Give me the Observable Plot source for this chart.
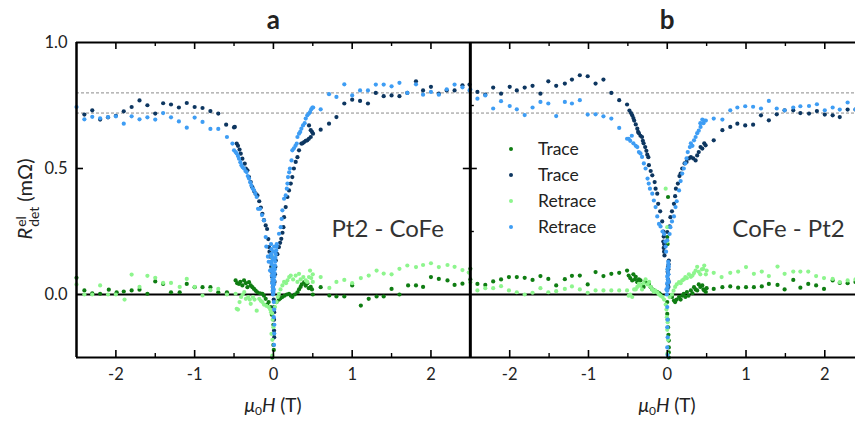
<!DOCTYPE html>
<html>
<head>
<meta charset="utf-8">
<script src="https://cdn.jsdelivr.net/npm/d3@7"></script>
<script src="https://cdn.jsdelivr.net/npm/@observablehq/plot@0.6"></script>
<style>
html, body { margin: 0; padding: 0; background: #fff; overflow: hidden; }
#wrap { position: relative; width: 855px; height: 428px; font-family: Lato, "Open Sans", sans-serif; color: #222; }
#chart { position: absolute; left: 0; top: 0; }
.xtitle { position: absolute; top: 393px; font-size: 19px; white-space: nowrap; transform: translateX(-50%); line-height: 24px; }
.xtitle sub { font-size: 12px; vertical-align: -3px; line-height: 0; }
#ytitle { position: absolute; left: 25px; top: 199px; transform: translate(-50%, -50%) rotate(-90deg); white-space: nowrap; font-size: 20px; line-height: 26px; }
#ytitle .ss { display: inline-flex; flex-direction: column; font-size: 14px; line-height: 13px; vertical-align: middle; margin-left: 1px; margin-right: 5px; }
#legend { position: absolute; left: 500px; top: 136px; font-size: 17.5px; }
#legend .row { position: relative; height: 26px; line-height: 26px; }
#legend .dot { position: absolute; left: 9px; top: 11px; width: 4px; height: 4px; border-radius: 50%; }
#legend .lab { position: absolute; left: 38px; top: 0; white-space: nowrap; }
</style>
</head>
<body>
<div id="wrap">
  <div id="chart"></div>
  <div id="ytitle"><i>R</i><span class="ss"><span>el</span><span>det</span></span>(mΩ)</div>
  <div class="xtitle" style="left:273px"><i>μ</i><sub>0</sub><i>H</i> (T)</div>
  <div class="xtitle" style="left:667px"><i>μ</i><sub>0</sub><i>H</i> (T)</div>
  <div id="legend"></div>
</div>
<script>
// ---------- data ----------
const panelLetters = ["a", "b"];
const panelNames = ["Pt2 - CoFe", "CoFe - Pt2"];
const seriesKeys = ["traceLow", "traceHigh", "retraceLow", "retraceHigh"];
const seriesLabels = ["Trace", "Trace", "Retrace", "Retrace"];
const seriesColors = ["#0f7d12", "#0d3660", "#8df58d", "#3e9df4"];
const xTickValues = [-2, -1, 0, 1, 2];
const xMinorValues = [-1.5, -0.5, 0.5, 1.5];
const yTickValues = [0, 0.5, 1.0];
const yMinorValues = [0.25, 0.75];
const refLines = [0.80, 0.72];

// Panel a (Pt2 - CoFe)
const aTraceHigh = [[-2.4,0.714],[-2.3,0.731],[-2.2,0.694],[-2.1,0.703],[-2.0,0.709],[-1.9,0.727],[-1.8,0.744],[-1.7,0.770],[-1.6,0.751],[-1.5,0.718],[-1.4,0.759],[-1.3,0.754],[-1.2,0.742],[-1.1,0.760],[-1.0,0.744],[-0.9,0.740],[-0.8,0.728],[-0.7,0.718],[-0.6,0.674],[-0.5,0.663],
[-0.49,0.665],[-0.466,0.599],[-0.45,0.59],[-0.43,0.575],[-0.415,0.559],[-0.394,0.539],[-0.364,0.519],[-0.35,0.50],[-0.33,0.493],[-0.31,0.466],[-0.288,0.446],[-0.267,0.426],[-0.245,0.41],[-0.225,0.40],[-0.203,0.393],[-0.18,0.37],[-0.16,0.345],[-0.14,0.32],[-0.12,0.295],[-0.098,0.274],[-0.08,0.26],[-0.065,0.22],[-0.056,0.188],[-0.05,0.17],[-0.04,0.15],[-0.034,0.13],[-0.028,0.11],[-0.022,0.09],[-0.018,0.07],[-0.012,0.05],[-0.008,0.03],[-0.004,0.01],[0.004,-0.02],[0.008,-0.05],[0.01,-0.07],[0.008,-0.1],[0.008,-0.143],[0.01,-0.17],
[0.015,0.05],[0.02,0.08],[0.025,0.11],[0.03,0.135],[0.05,0.16],[0.07,0.188],[0.085,0.205],[0.10,0.221],[0.115,0.245],[0.127,0.267],[0.135,0.307],[0.156,0.347],[0.178,0.387],[0.198,0.413],[0.22,0.44],[0.24,0.466],[0.26,0.50],[0.283,0.526],[0.305,0.545],[0.325,0.572],[0.355,0.599],[0.37,0.60],[0.39,0.605],[0.41,0.61],[0.43,0.612],[0.45,0.618],[0.474,0.625],[0.503,0.638],[0.49,0.645],[0.474,0.652],[0.452,0.671],
[0.6,0.654],[0.706,0.678],[0.80,0.704],[0.90,0.758],[1.0,0.773],[1.1,0.768],[1.2,0.758],[1.3,0.80],[1.4,0.787],[1.5,0.79],[1.6,0.787],[1.7,0.80],[1.81,0.846],[1.9,0.81],[2.0,0.824],[2.1,0.797],[2.2,0.81],[2.3,0.81],[2.4,0.83],[2.49,0.833]];

const aRetraceHigh = [[-2.5,0.744],[-2.4,0.695],[-2.3,0.705],[-2.2,0.699],[-2.1,0.704],[-2.0,0.707],[-1.9,0.678],[-1.8,0.707],[-1.7,0.695],[-1.6,0.703],[-1.5,0.694],[-1.4,0.72],[-1.3,0.703],[-1.2,0.687],[-1.1,0.662],[-1.0,0.702],[-0.9,0.685],[-0.8,0.657],[-0.7,0.657],[-0.59,0.625],
[-0.52,0.599],[-0.50,0.572],[-0.48,0.565],[-0.466,0.56],[-0.45,0.55],[-0.437,0.539],[-0.42,0.525],[-0.406,0.513],[-0.39,0.505],[-0.373,0.50],[-0.355,0.49],[-0.34,0.486],[-0.325,0.47],[-0.31,0.46],[-0.295,0.445],[-0.28,0.433],[-0.262,0.42],[-0.246,0.413],[-0.23,0.40],[-0.212,0.387],[-0.195,0.34],[-0.17,0.34],[-0.145,0.315],[-0.12,0.294],[-0.098,0.228],[-0.09,0.19],[-0.07,0.15],[-0.06,0.13],[-0.043,0.095],
[-0.03,0.2],[-0.025,0.18],[-0.03,0.16],[-0.02,0.15],[-0.028,0.13],[-0.02,0.12],[-0.025,0.1],[-0.015,0.09],[-0.02,0.075],[-0.012,0.06],[-0.015,0.045],[-0.008,0.03],[-0.01,0.015],[-0.005,0.0],[0,0.01],[0.005,0.02],[0.008,0.04],[0.01,0.055],[0.012,0.07],[0.015,0.085],[0.018,0.1],[0.02,0.115],[0.022,0.13],[0.025,0.145],[0.03,0.16],[0.035,0.175],[0.04,0.19],[0,0.05],[0,0.08],[0.005,0.11],[-0.005,0.14],[0.0,0.17],[0.01,0.19],
[0.005,-0.03],[0.01,-0.06],[0.005,-0.09],[0.012,-0.12],[0.01,-0.155],[0.008,-0.2],
[0.042,0.2],[0.071,0.241],[0.093,0.267],[0.105,0.30],[0.114,0.334],[0.135,0.38],[0.156,0.393],[0.17,0.42],[0.178,0.44],[0.185,0.466],[0.2,0.485],[0.21,0.50],[0.23,0.532],[0.24,0.572],[0.26,0.58],[0.28,0.59],[0.296,0.599],[0.305,0.625],[0.325,0.638],[0.34,0.645],[0.355,0.658],[0.376,0.671],[0.397,0.68],[0.41,0.698],[0.43,0.711],[0.45,0.718],[0.465,0.724],[0.48,0.735],[0.495,0.742],[0.505,0.742],[0.60,0.735],
[0.706,0.795],[0.80,0.784],[0.90,0.834],[1.0,0.79],[1.1,0.81],[1.2,0.81],[1.3,0.833],[1.4,0.833],[1.5,0.826],[1.6,0.84],[1.7,0.80],[1.81,0.834],[1.9,0.793],[2.0,0.804],[2.1,0.793],[2.2,0.814],[2.3,0.833],[2.4,0.822],[2.49,0.81]];

const aTraceLow = [[-2.5,0.066],[-2.4,0.016],[-2.3,0.005],[-2.2,0.003],[-2.09,0.019],[-1.99,0.009],[-1.9,0.012],[-1.8,0.016],[-1.7,0.019],[-1.6,0.003],[-1.5,0.052],[-1.4,0.042],[-1.3,0.009],[-1.19,0.009],[-1.1,0.042],[-1.0,0.029],[-0.9,0.029],[-0.8,0.029],[-0.7,0.009],[-0.59,0.009],
[-0.48,0.056],[-0.46,0.045],[-0.437,0.042],[-0.42,0.05],[-0.394,0.036],[-0.373,0.056],[-0.35,0.045],[-0.33,0.029],[-0.31,0.049],[-0.288,0.036],[-0.267,0.029],[-0.246,0.022],[-0.225,0.015],[-0.203,0.009],[-0.17,0.005],[-0.14,0.003],[-0.12,-0.005],[-0.098,-0.017],[-0.08,-0.04],[-0.06,-0.03],[-0.034,-0.05],[-0.02,-0.08],
[0.0,-0.12],[0.008,-0.156],[0.0,-0.2],[0.005,-0.22],[-0.013,-0.25],
[0.04,-0.03],[0.07,-0.02],[0.09,-0.015],[0.114,-0.01],[0.14,-0.005],[0.17,0.0],[0.198,0.003],[0.22,-0.005],[0.24,-0.01],[0.27,0.0],[0.305,0.009],[0.325,0.02],[0.345,0.03],[0.36,0.04],[0.39,0.049],[0.41,0.035],[0.43,0.045],[0.45,0.025],[0.474,0.03],[0.5,0.0],[0.49,0.02],
[0.6,0.029],[0.71,-0.004],[0.8,-0.008],[0.9,-0.008],[1.0,0.036],[1.11,-0.044],[1.21,-0.017],[1.31,-0.008],[1.40,-0.008],[1.5,0.022],[1.6,0.0],[1.71,0.036],[1.81,0.036],[1.90,0.03],[2.0,0.069],[2.1,0.062],[2.21,0.056],[2.3,0.038],[2.4,0.043]];

const aRetraceLow = [[-2.5,0.04],[-2.4,0.0],[-2.3,0.0],[-2.2,0.036],[-2.1,0.0],[-2.0,0.0],[-1.89,-0.02],[-1.8,0.079],[-1.7,0.03],[-1.6,0.074],[-1.5,0.066],[-1.4,0.046],[-1.3,0.046],[-1.19,0.03],[-1.1,0.062],[-1.0,0.03],[-0.9,-0.004],[-0.8,0.017],[-0.7,0.022],[-0.59,0.0],
[-0.48,0.003],[-0.466,-0.057],[-0.45,-0.06],[-0.43,-0.03],[-0.41,-0.01],[-0.39,0.0],[-0.37,0.01],[-0.35,-0.017],[-0.32,-0.01],[-0.30,-0.02],[-0.288,-0.037],[-0.26,-0.01],[-0.24,-0.02],[-0.212,-0.064],[-0.18,-0.017],[-0.16,-0.025],[-0.14,-0.03],[-0.12,-0.04],[-0.09,-0.045],[-0.06,-0.05],[-0.04,-0.06],[-0.03,-0.07],[-0.015,-0.075],
[-0.025,-0.156],[-0.013,-0.18],[-0.013,-0.242],[-0.013,0.148],[0.0,0.11],[-0.01,-0.1],[0.0,-0.13],
[0.02,-0.05],[0.04,-0.03],[0.055,-0.01],[0.07,0.003],[0.09,0.02],[0.114,0.036],[0.135,0.05],[0.16,0.045],[0.178,0.056],[0.2,0.069],[0.22,0.075],[0.25,0.06],[0.283,0.075],[0.305,0.05],[0.325,0.082],[0.345,0.06],[0.38,0.069],[0.41,0.056],[0.43,0.05],[0.452,0.069],[0.465,0.095],[0.48,0.065],[0.5,0.08],[0.5,0.05],
[0.6,0.069],[0.71,0.026],[0.8,0.05],[0.9,0.058],[1.0,0.045],[1.11,0.065],[1.21,0.075],[1.31,0.095],[1.40,0.083],[1.5,0.08],[1.6,0.102],[1.7,0.115],[1.81,0.109],[1.9,0.117],[2.0,0.124],[2.1,0.109],[2.21,0.117],[2.3,0.11],[2.4,0.097],[2.48,0.087]];

// Panel b (CoFe - Pt2)
const bTraceHigh = [[-2.41,0.804],[-2.31,0.793],[-2.21,0.821],[-2.11,0.797],[-2.0,0.824],[-1.91,0.81],[-1.81,0.821],[-1.71,0.828],[-1.61,0.797],[-1.51,0.846],[-1.41,0.828],[-1.3,0.837],[-1.21,0.853],[-1.11,0.87],[-1.01,0.866],[-0.91,0.837],[-0.81,0.853],[-0.71,0.80],[-0.61,0.771],[-0.51,0.754],
[-0.48,0.73],[-0.46,0.72],[-0.445,0.711],[-0.43,0.70],[-0.42,0.69],[-0.40,0.675],[-0.38,0.658],[-0.37,0.645],[-0.36,0.64],[-0.34,0.63],[-0.32,0.625],[-0.31,0.61],[-0.30,0.60],[-0.28,0.585],[-0.265,0.57],[-0.254,0.555],[-0.24,0.545],[-0.233,0.513],[-0.21,0.49],[-0.19,0.473],[-0.16,0.446],[-0.148,0.42],[-0.127,0.40],[-0.115,0.36],[-0.09,0.33],[-0.064,0.29],[-0.05,0.25],[-0.045,0.23],[-0.05,0.21],[-0.04,0.2],[-0.045,0.185],[-0.04,0.17],[-0.035,0.155],
[0.0,0.02],[0.005,0.04],[0.01,0.06],[0.012,0.08],[0.015,0.1],[0.018,0.12],[0.02,0.135],[0.005,0.09],[0.01,0.11],[0.02,0.05],[0.015,0.03],
[0.0,0.248],[0.03,0.27],[0.04,0.307],[0.06,0.33],[0.085,0.36],[0.1,0.39],[0.11,0.42],[0.135,0.44],[0.155,0.47],[0.17,0.48],[0.19,0.5],[0.22,0.52],[0.245,0.526],[0.275,0.54],[0.3,0.545],[0.33,0.54],[0.36,0.532],[0.38,0.552],[0.4,0.565],[0.423,0.585],[0.445,0.579],[0.47,0.60],[0.487,0.592],
[0.59,0.612],[0.70,0.652],[0.80,0.665],[0.89,0.678],[0.99,0.671],[1.09,0.674],[1.19,0.711],[1.29,0.691],[1.39,0.715],[1.49,0.731],[1.60,0.731],[1.69,0.72],[1.80,0.718],[1.90,0.728],[2.0,0.714],[2.10,0.711],[2.19,0.704],[2.29,0.734],[2.39,0.734]];

const bRetraceHigh = [[-2.5,0.813],[-2.41,0.777],[-2.31,0.79],[-2.21,0.738],[-2.11,0.767],[-2.0,0.748],[-1.91,0.735],[-1.81,0.712],[-1.71,0.742],[-1.61,0.764],[-1.51,0.758],[-1.41,0.708],[-1.30,0.764],[-1.21,0.758],[-1.11,0.771],[-1.01,0.714],[-0.91,0.715],[-0.81,0.707],[-0.71,0.698],[-0.61,0.661],[-0.51,0.618],
[-0.49,0.618],[-0.47,0.61],[-0.45,0.63],[-0.43,0.60],[-0.40,0.59],[-0.38,0.585],[-0.36,0.565],[-0.34,0.56],[-0.32,0.546],[-0.297,0.52],[-0.275,0.50],[-0.25,0.46],[-0.235,0.44],[-0.22,0.42],[-0.19,0.40],[-0.17,0.373],[-0.148,0.347],[-0.127,0.31],[-0.105,0.28],[-0.085,0.27],[-0.06,0.25],[-0.04,0.24],
[-0.005,0.0],[0,0.015],[0.005,0.03],[0.0,0.045],[0.008,0.06],[0.005,0.075],[0.01,0.09],[0.008,0.105],[0.015,0.12],[0.012,0.13],[0.002,0.1],[0.0,0.07],[0.015,0.08],[0.02,0.11],[0.018,0.05],[-0.01,0.02],[-0.02,0.19],[-0.025,0.21],[-0.015,0.17],
[0.0,-0.05],[0.005,-0.1],[0,-0.13],[0.005,-0.17],[0.0,-0.21],[0.005,-0.24],
[0.0,0.215],[0.03,0.24],[0.04,0.267],[0.06,0.29],[0.085,0.31],[0.105,0.347],[0.12,0.37],[0.15,0.413],[0.17,0.45],[0.19,0.48],[0.21,0.5],[0.23,0.52],[0.245,0.54],[0.26,0.565],[0.287,0.585],[0.3,0.6],[0.32,0.59],[0.34,0.612],[0.36,0.625],[0.38,0.64],[0.40,0.65],[0.423,0.665],[0.42,0.68],[0.445,0.694],[0.46,0.68],[0.47,0.69],[0.49,0.69],
[0.59,0.698],[0.70,0.694],[0.80,0.731],[0.89,0.742],[0.99,0.747],[1.09,0.745],[1.19,0.738],[1.29,0.768],[1.39,0.738],[1.49,0.731],[1.60,0.742],[1.69,0.747],[1.80,0.748],[1.90,0.755],[2.0,0.731],[2.10,0.742],[2.19,0.734],[2.29,0.762],[2.39,0.735]];

const bTraceLow = [[-2.5,0.102],[-2.5,0.06],[-2.41,0.042],[-2.31,0.038],[-2.21,0.052],[-2.11,0.06],[-2.01,0.069],[-1.91,0.069],[-1.81,0.066],[-1.71,0.058],[-1.61,0.073],[-1.51,0.062],[-1.41,0.036],[-1.30,0.061],[-1.21,0.074],[-1.11,0.075],[-1.01,0.04],[-0.91,0.089],[-0.81,0.073],[-0.71,0.082],[-0.61,0.086],[-0.51,0.095],
[-0.49,0.075],[-0.47,0.065],[-0.445,0.056],[-0.43,0.08],[-0.41,0.06],[-0.40,0.07],[-0.38,0.049],[-0.36,0.06],[-0.34,0.056],[-0.32,0.036],[-0.30,0.03],[-0.28,0.05],[-0.25,0.045],[-0.233,0.042],[-0.21,0.029],[-0.19,0.02],[-0.17,0.016],[-0.15,0.012],[-0.127,0.01],[-0.10,0.005],[-0.085,0.0],
[0.0,-0.03],[0.0,-0.077],[0.005,-0.1],[0.01,-0.13],[0.015,-0.16],[0.02,-0.183],[0.02,-0.21],[0.02,-0.23],[0.02,-0.25],[0.01,0.387],[0.0,0.228],[0.005,0.2],
[0.06,-0.01],[0.085,-0.024],[0.1,-0.03],[0.12,-0.02],[0.15,-0.01],[0.17,-0.02],[0.19,-0.005],[0.21,0.003],[0.23,-0.01],[0.25,0.01],[0.27,-0.005],[0.3,0.016],[0.32,0.005],[0.34,0.029],[0.36,0.02],[0.38,0.016],[0.4,0.04],[0.42,0.03],[0.445,0.036],[0.46,0.02],[0.47,0.016],[0.49,0.01],[0.50,0.025],
[0.59,0.022],[0.70,0.029],[0.80,0.032],[0.90,0.027],[1.0,0.029],[1.10,0.029],[1.20,0.032],[1.29,0.042],[1.40,0.038],[1.49,0.02],[1.60,0.058],[1.69,0.027],[1.79,0.042],[1.89,0.036],[1.99,0.022],[2.10,0.056],[2.19,0.046],[2.29,0.045],[2.39,0.05]];

const bRetraceLow = [[-2.5,0.049],[-2.41,0.016],[-2.31,0.025],[-2.21,0.025],[-2.11,0.033],[-2.01,0.016],[-1.91,0.009],[-1.81,0.0],[-1.71,0.007],[-1.61,0.025],[-1.51,0.009],[-1.41,0.013],[-1.30,0.022],[-1.21,0.032],[-1.11,0.02],[-1.01,0.007],[-0.91,0.016],[-0.81,0.016],[-0.71,0.016],[-0.61,0.016],
[-0.51,0.016],[-0.49,-0.005],[-0.47,0.0],[-0.445,-0.01],[-0.42,0.02],[-0.40,0.02],[-0.38,0.03],[-0.36,0.042],[-0.34,0.035],[-0.32,0.02],[-0.30,0.045],[-0.275,0.06],[-0.25,0.04],[-0.23,0.05],[-0.21,0.03],[-0.19,0.02],[-0.17,0.01],[-0.15,0.015],[-0.127,0.008],[-0.105,0.0],[-0.085,-0.005],[-0.06,-0.01],[-0.04,-0.02],
[-0.02,0.42],[0,0.267],[0,0.21],[-0.02,-0.04],[-0.005,-0.09],[0,-0.14],[0.01,-0.18],[0.0,-0.236],[-0.01,-0.06],[0.005,-0.11],
[0.03,-0.01],[0.06,0.0],[0.08,0.015],[0.1,0.03],[0.12,0.04],[0.15,0.049],[0.17,0.045],[0.19,0.056],[0.21,0.06],[0.23,0.069],[0.25,0.065],[0.275,0.08],[0.3,0.07],[0.32,0.075],[0.34,0.085],[0.36,0.095],[0.38,0.11],[0.4,0.09],[0.42,0.08],[0.44,0.1],[0.457,0.102],[0.47,0.115],[0.49,0.08],[0.50,0.095],
[0.59,0.086],[0.69,0.069],[0.80,0.086],[0.90,0.091],[1.0,0.109],[1.10,0.082],[1.20,0.091],[1.29,0.073],[1.40,0.111],[1.49,0.082],[1.60,0.091],[1.69,0.091],[1.79,0.091],[1.89,0.073],[1.99,0.065],[2.10,0.062],[2.19,0.049],[2.29,0.056],[2.39,0.06]];

// ---------- layout ----------
const OFFSET = 5;                 // panel b is drawn 5 T to the right of panel a
const xDomain = [-2.5, 2.39 + OFFSET];
const yDomain = [-0.25, 1.0];
const annoX = [1.45, 1.54 + OFFSET];
const annoY = 0.258;
const panelCenters = [0, OFFSET];

const seriesData = {
  a: {traceLow: aTraceLow, traceHigh: aTraceHigh, retraceLow: aRetraceLow, retraceHigh: aRetraceHigh},
  b: {traceLow: bTraceLow, traceHigh: bTraceHigh, retraceLow: bRetraceLow, retraceHigh: bRetraceHigh}
};
const rows = [];
for (const key of seriesKeys) {
  for (const p of panelLetters) {
    const shift = p === "b" ? OFFSET : 0;
    for (const [x, y] of seriesData[p][key]) rows.push({x: x + shift, y, series: key});
  }
}

const both = arr => [...arr, ...arr.map(d => d + OFFSET)].filter(d => d >= xDomain[0] && d <= xDomain[1]);
const xMajor = both(xTickValues);
const xMinor = both(xMinorValues);
const xMid = xDomain[0] + OFFSET;   // shared boundary between the panels
const yMin = yDomain[0], yMax = yDomain[1];

const chart = Plot.plot({
  width: 855,
  height: 428,
  marginLeft: 76,
  marginRight: 0,
  marginTop: 42,
  marginBottom: 71,
  style: {fontFamily: "Lato, 'Open Sans', sans-serif", fontSize: "16px", color: "#222", background: "transparent", overflow: "visible"},
  x: {domain: xDomain},
  y: {domain: yDomain},
  color: {domain: seriesKeys, range: seriesColors},
  marks: [
    Plot.ruleY(refLines, {stroke: "#8a8a8a", strokeWidth: 1, strokeDasharray: "3,2"}),
    Plot.ruleY([0], {stroke: "#000", strokeWidth: 2.2}),
    Plot.dot(rows, {x: "x", y: "y", fill: "series", r: 2.1}),
    // frame
    Plot.ruleY([yMax, yMin], {stroke: "#000", strokeWidth: 2.2}),
    Plot.ruleX([xDomain[0]], {stroke: "#000", strokeWidth: 2.5}),
    Plot.ruleX([xMid], {stroke: "#000", strokeWidth: 3}),
    // inward ticks
    Plot.ruleX(xMajor, {x: d => d, y1: yMin, y2: yMin, insetTop: -7, stroke: "#000", strokeWidth: 1.6}),
    Plot.ruleX(xMinor, {x: d => d, y1: yMin, y2: yMin, insetTop: -4, stroke: "#000", strokeWidth: 1.4}),
    Plot.ruleX(xMajor, {x: d => d, y1: yMax, y2: yMax, insetBottom: -7, stroke: "#000", strokeWidth: 1.6}),
    Plot.ruleX(xMinor, {x: d => d, y1: yMax, y2: yMax, insetBottom: -4, stroke: "#000", strokeWidth: 1.4}),
    Plot.ruleY([0.5], {y: d => d, x1: xDomain[0], x2: xDomain[0], insetRight: -7, stroke: "#000", strokeWidth: 1.6}),
    Plot.ruleY([0.5], {y: d => d, x1: xMid, x2: xMid, insetLeft: -7, insetRight: -7, stroke: "#000", strokeWidth: 1.6}),
    Plot.ruleY(yMinorValues, {y: d => d, x1: xMid, x2: xMid, insetRight: -4, stroke: "#000", strokeWidth: 1.4}),
    // tick labels
    Plot.axisX({ticks: xMajor, tickSize: 0, tickPadding: 11, label: null, fontSize: 16.5,
      tickFormat: d => String(Math.round(d > xMid ? d - OFFSET : d))}),
    Plot.axisY({ticks: yTickValues, tickSize: 0, tickPadding: 9, label: null, fontSize: 16.5,
      tickFormat: d => d.toFixed(1)}),
    // panel letters and sample names
    Plot.text(panelLetters, {x: (d, i) => panelCenters[i], y: yMax, dy: -22, text: d => d,
      fontSize: 26, fontWeight: "bold", fill: "#222"}),
    Plot.text(panelNames, {x: (d, i) => annoX[i], y: annoY, text: d => d,
      fontSize: 24, fill: "#333"})
  ]
});
document.getElementById("chart").appendChild(chart);

// legend (drawn inside panel b)
const legend = d3.select("#legend");
seriesKeys.forEach((k, i) => {
  const row = legend.append("div").attr("class", "row");
  row.append("div").attr("class", "dot").style("background", seriesColors[i]);
  row.append("div").attr("class", "lab").text(seriesLabels[i]);
});
</script>
</body>
</html>
